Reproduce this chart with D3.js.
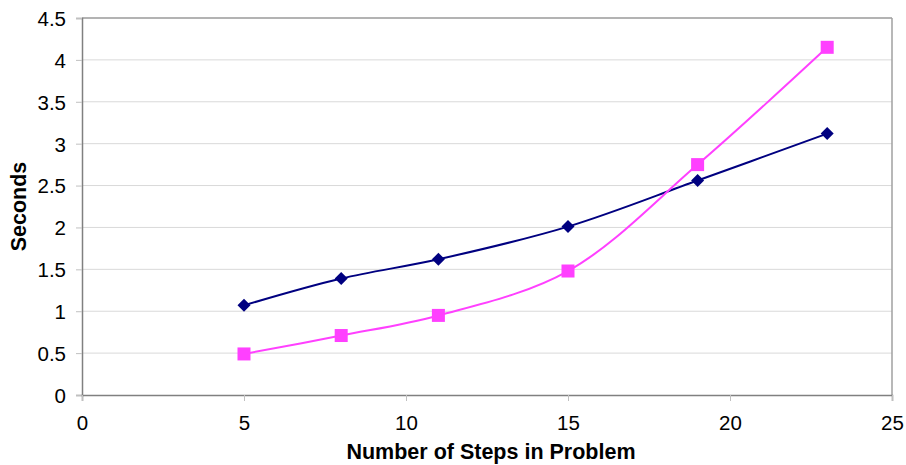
<!DOCTYPE html>
<html><head><meta charset="utf-8">
<script src="https://cdn.jsdelivr.net/npm/d3@7/dist/d3.min.js"></script>
<style>body{margin:0;background:#fff}svg text{font-family:"Liberation Sans",Arial,sans-serif}</style>
</head><body>
<svg id="c" width="906" height="465"></svg>
<script>
const steps = [5, 8, 11, 15, 19, 23];
const seriesA = [1.07, 1.39, 1.62, 2.01, 2.56, 3.12];
const seriesB = [0.49, 0.71, 0.95, 1.48, 2.75, 4.15];
const xTicks = [0, 5, 10, 15, 20, 25];
const yTicks = [0, 0.5, 1, 1.5, 2, 2.5, 3, 3.5, 4, 4.5];

const svg = d3.select("#c");
const L = 82, R = 892, T = 18, B = 395;
const x = d3.scaleLinear().domain([0, 25]).range([L, R]);
const y = d3.scaleLinear().domain([0, 4.5]).range([B, T]);

svg.append("g").selectAll("line").data(yTicks.filter(d => d > 0)).join("line")
  .attr("x1", L).attr("x2", R).attr("y1", d => y(d)).attr("y2", d => y(d))
  .attr("stroke", "#d9d9d9").attr("stroke-width", 1);

svg.append("line").attr("x1", L).attr("x2", R).attr("y1", T).attr("y2", T).attr("stroke", "#a0a0a0").attr("stroke-width", 1.5);
svg.append("line").attr("x1", R).attr("x2", R).attr("y1", T).attr("y2", B).attr("stroke", "#a0a0a0").attr("stroke-width", 1.5);

const yAxis = svg.append("g").attr("transform", `translate(${L},0)`)
  .call(d3.axisLeft(y).tickValues(yTicks).tickFormat(d => String(d)).tickSize(6).tickPadding(10));
const xAxis = svg.append("g").attr("transform", `translate(0,${B})`)
  .call(d3.axisBottom(x).tickValues(xTicks).tickFormat(d => String(d)).tickSize(6).tickPadding(14));
[yAxis, xAxis].forEach(a => {
  a.select(".domain").attr("stroke", "#808080").attr("stroke-width", 1.5);
  a.selectAll(".tick line").attr("stroke", "#c0c0c0");
  a.selectAll("text").attr("font-size", 20.5).attr("fill", "#000");
});
yAxis.selectAll("text").attr("dy", "0.36em");
xAxis.selectAll("text").attr("dy", "0.72em");

const line = d3.line().x((d, i) => x(steps[i])).y(d => y(d)).curve(d3.curveCatmullRom.alpha(0.5));
svg.append("path").attr("d", line(seriesA)).attr("fill", "none").attr("stroke", "#000080").attr("stroke-width", 2);
svg.append("path").attr("d", line(seriesB)).attr("fill", "none").attr("stroke", "#ff40ff").attr("stroke-width", 2);

svg.append("g").selectAll("path").data(seriesA).join("path")
  .attr("transform", (d, i) => `translate(${x(steps[i])},${y(d)})`)
  .attr("d", "M0,-6.5L6.5,0L0,6.5L-6.5,0Z").attr("fill", "#000080");
svg.append("g").selectAll("rect").data(seriesB).join("rect")
  .attr("x", (d, i) => x(steps[i]) - 6.5).attr("y", d => y(d) - 6.5)
  .attr("width", 13).attr("height", 13).attr("fill", "#ff40ff");

svg.append("text").attr("x", 491).attr("y", 459).attr("text-anchor", "middle")
  .attr("font-size", 21.5).attr("font-weight", "bold").text("Number of Steps in Problem");
svg.append("text").attr("transform", `translate(26,${(T + B) / 2}) rotate(-90)`).attr("text-anchor", "middle")
  .attr("font-size", 21.5).attr("font-weight", "bold").text("Seconds");
</script>
</body></html>
